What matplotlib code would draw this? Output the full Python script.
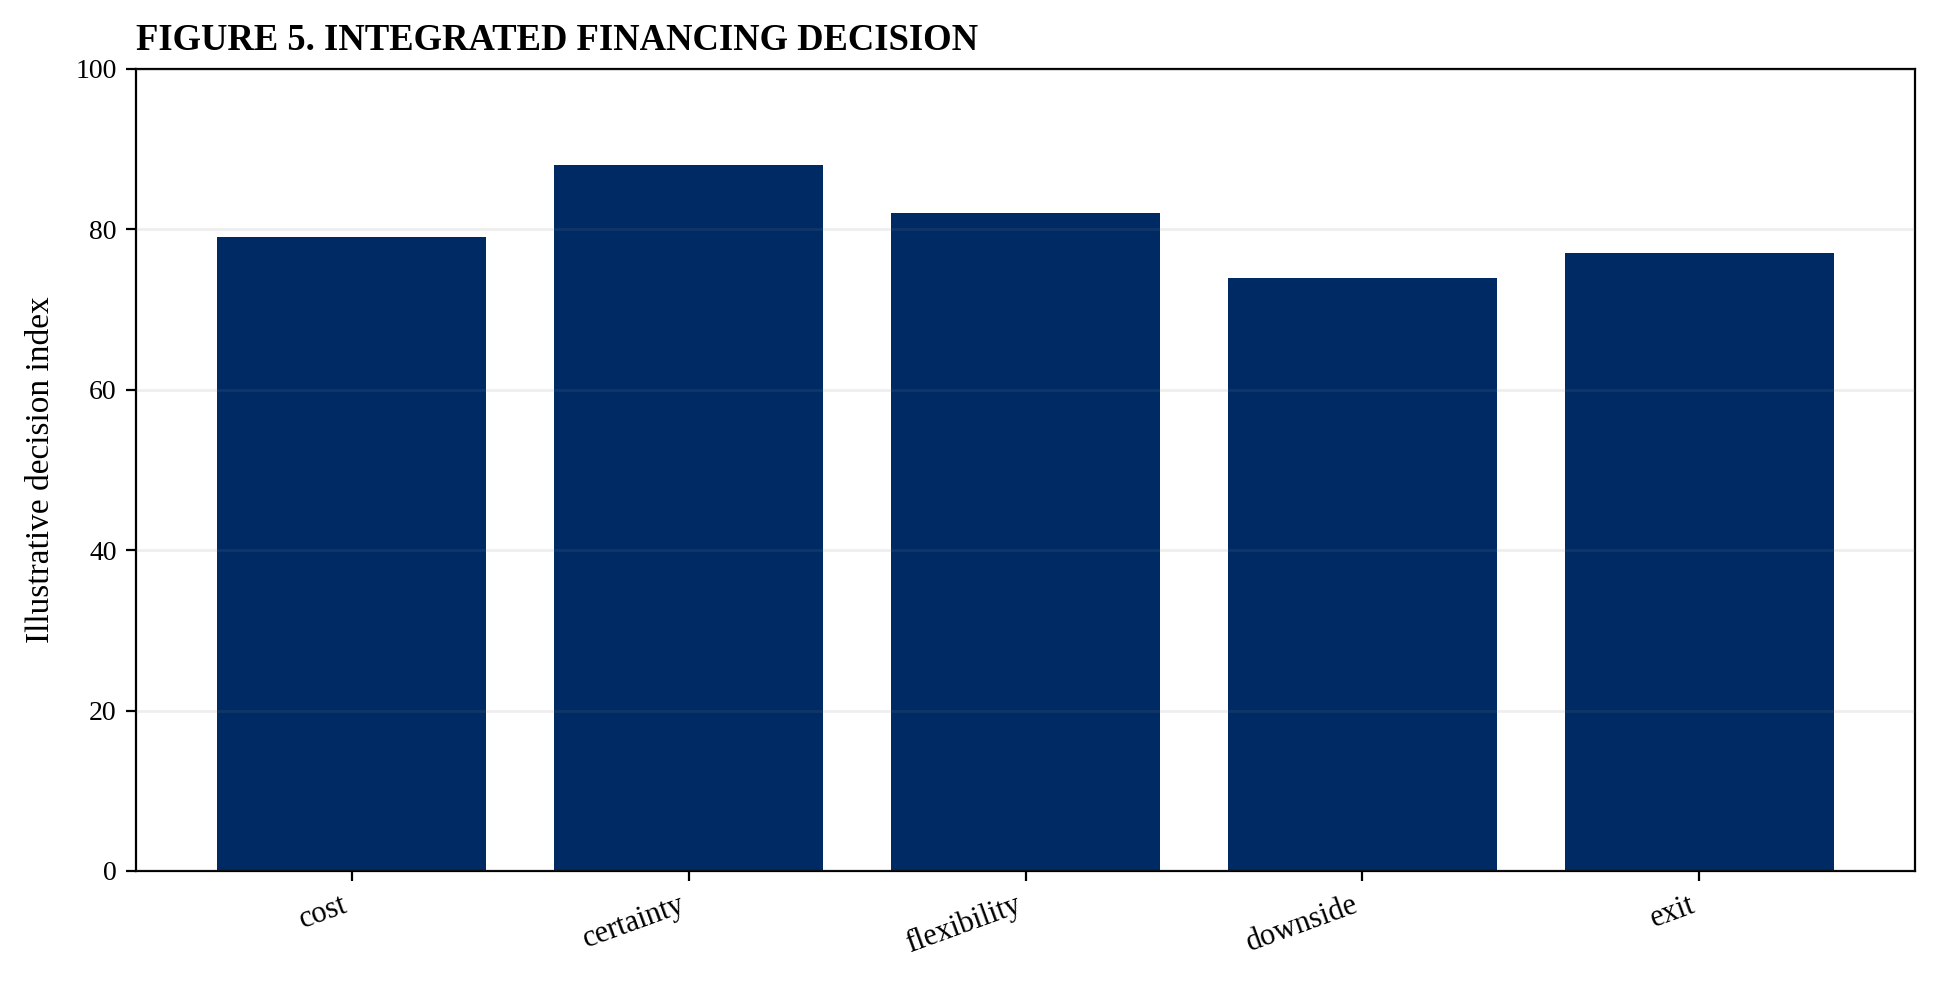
import matplotlib
matplotlib.use("Agg")
import matplotlib.pyplot as plt

categories = ["cost", "certainty", "flexibility", "downside", "exit"]
values = [79, 88, 82, 74, 77]
yticks = [0, 20, 40, 60, 80, 100]

plt.rcParams['font.family'] = ['Liberation Serif', 'DejaVu Serif']

fig = plt.figure(figsize=(9.695, 4.915), dpi=200)
ax = fig.add_axes([136 / 1939, 1 - 871 / 983, (1915 - 136) / 1939, (871 - 69) / 983])

ax.bar(categories, values, color="#002A64", width=0.8)
ax.set_ylim(0, 100)
ax.set_yticks(yticks)
ax.grid(axis="y", color="#808080", alpha=0.13, linewidth=1)
ax.set_axisbelow(False)
ax.set_ylabel("Illustrative decision index", fontsize=12, labelpad=7)
ax.tick_params(axis="y", labelsize=10)
ax.tick_params(axis="x", labelsize=11)
plt.setp(ax.get_xticklabels(), rotation=20, ha="right")
ax.set_title("FIGURE 5. INTEGRATED FINANCING DECISION", loc="left",
             fontweight="bold", fontsize=13.2, pad=7)

fig.savefig("out.png", dpi=200)
